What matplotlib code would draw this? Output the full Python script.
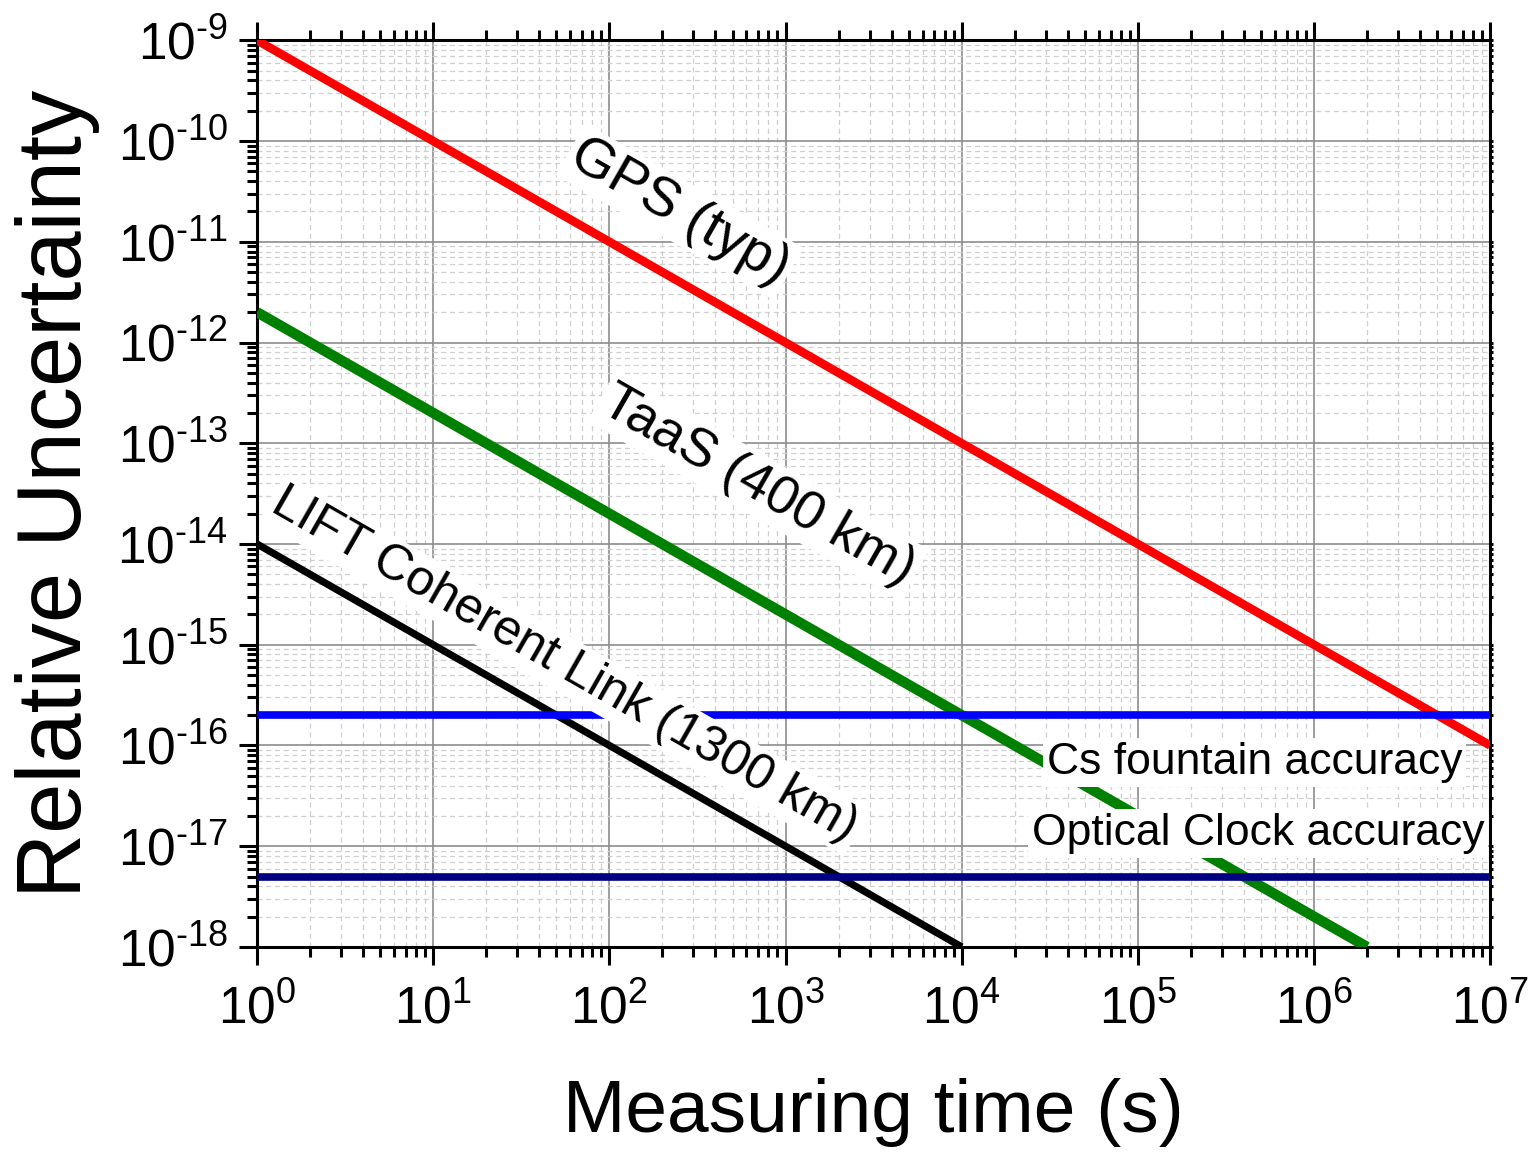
import matplotlib
matplotlib.use('Agg')
import matplotlib.pyplot as plt
import numpy as np
from matplotlib.ticker import LogLocator, FixedLocator, FixedFormatter, NullFormatter

plt.rcParams['font.family'] = ['Liberation Sans', 'DejaVu Sans']
plt.rcParams['mathtext.fontset'] = 'custom'
plt.rcParams['mathtext.rm'] = 'Liberation Sans'
plt.rcParams['mathtext.it'] = 'Liberation Sans'

# traces: measuring time (s) at the ends, relative uncertainty at the ends
gps_t = [1, 1e7]
gps_u = [1e-9, 1e-16]
taas_t = [1, 2e6]
taas_u = [2e-12, 1e-18]
lift_t = [1, 1e4]
lift_u = [1e-14, 1e-18]
cs_level = 2e-16
optical_level = 5e-18

x_exps = [0, 1, 2, 3, 4, 5, 6, 7]
y_exps = [-18, -17, -16, -15, -14, -13, -12, -11, -10, -9]

# annotation texts and where they sit (data coords)
labels = ['GPS (typ)', 'TaaS (400 km)', 'LIFT Coherent Link (1300 km)',
          'Cs fountain accuracy', 'Optical Clock accuracy']
label_x = [2.5e2, 7.0e2, 56, 4.6e5, 4.8e5]
label_y = [2.0e-11, 3.8e-14, 6.3e-16, 6.7e-17, 1.35e-17]
label_rot = [-29.8, -29.8, -29.8, 0, 0]
label_size = [40, 39, 36, 32, 32]


def sci(e):
    if e < 0:
        return r'$\mathregular{10^{\text{-}%d}}$' % (-e)
    return r'$\mathregular{10^{%d}}$' % e


fig = plt.figure(figsize=(15.3, 11.52), dpi=100)
ax = fig.add_axes([0.168, 0.178, 0.806, 0.787])

ax.plot(gps_t, gps_u, color='#ff0000', lw=6.2, solid_capstyle='butt', zorder=3)
ax.plot(taas_t, taas_u, color='#008000', lw=7.5, solid_capstyle='butt', zorder=3)
ax.plot(lift_t, lift_u, color='#000000', lw=5.2, solid_capstyle='butt', zorder=3)
ax.axhline(cs_level, color='#0000ff', lw=5.5, zorder=3)
ax.axhline(optical_level, color='#000080', lw=5.5, zorder=3)

ax.set_xscale('log')
ax.set_yscale('log')
ax.set_xlim(1, 1e7)
ax.set_ylim(1e-18, 1e-9)

ax.xaxis.set_major_locator(FixedLocator([10.0 ** e for e in x_exps]))
ax.xaxis.set_major_formatter(FixedFormatter([sci(e) for e in x_exps]))
ax.yaxis.set_major_locator(FixedLocator([10.0 ** e for e in y_exps]))
ax.yaxis.set_major_formatter(FixedFormatter([sci(e) for e in y_exps]))
ax.xaxis.set_minor_locator(LogLocator(base=10, subs=np.arange(2, 10), numticks=100))
ax.yaxis.set_minor_locator(LogLocator(base=10, subs=np.arange(2, 10), numticks=100))
ax.xaxis.set_minor_formatter(NullFormatter())
ax.yaxis.set_minor_formatter(NullFormatter())

ax.grid(which='major', color='#8c8c8c', lw=1.2, zorder=1)
ax.grid(which='minor', color='#cfcfcf', lw=0.9, ls=(0, (4, 3)), zorder=1)
ax.set_axisbelow(True)

for s in ax.spines.values():
    s.set_linewidth(2.2)

ax.tick_params(which='both', direction='out', top=True, right=True, width=2.2,
               labelsize=37, colors='black')
ax.tick_params(which='major', length=13)
ax.tick_params(which='minor', length=7)
ax.tick_params(axis='x', which='major', pad=14)
ax.tick_params(axis='y', which='major', pad=8)
for t in ax.yaxis.get_major_ticks() + ax.yaxis.get_minor_ticks():
    t.tick2line.set_markersize(2)

ax.set_xlabel('Measuring time (s)', fontsize=54)
ax.set_ylabel('Relative Uncertainty', fontsize=65)
ax.xaxis.set_label_coords(0.5, -0.145)
ax.yaxis.set_label_coords(-0.127, 0.5)

for txt, lx, ly, rot, fs in zip(labels, label_x, label_y, label_rot, label_size):
    ax.text(lx, ly, txt, fontsize=fs, rotation=rot, ha='center', va='center',
            zorder=5, bbox=dict(facecolor='white', edgecolor='none', pad=3))

fig.savefig('out.png', dpi=100)
